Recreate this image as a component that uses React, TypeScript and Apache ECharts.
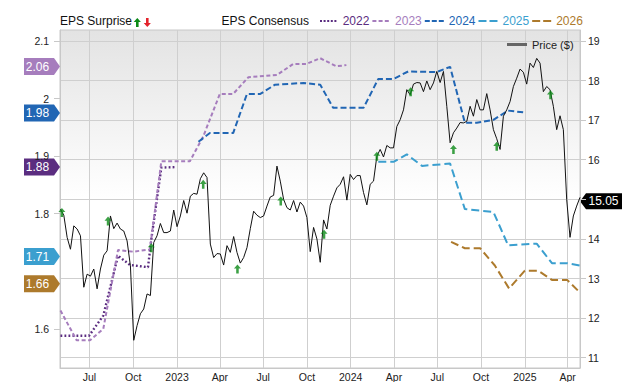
import React, { useEffect, useRef } from 'react';
import * as echarts from 'echarts';

// Weekly closing price, first week 2022-05-01
const PRICE_START = [2022, 4, 1];
const PRICE = [
  14.75, 14.6, 14.04, 13.74, 14.33, 14.25, 14.08, 12.78, 13.11, 13.06,
  13.24, 12.74, 13.24, 13.59, 13.7, 14.58, 14.26, 14.4, 14.25, 14.2,
  13.95, 13.32, 11.44, 11.81, 12.11, 12.23, 12.61, 12.57, 13.91, 14.08,
  14.39, 14.16, 14.16, 14.2, 14.73, 14.31, 14.58, 14.97, 14.65, 15.08,
  15.15, 15.13, 15.52, 15.67, 15.55, 13.87, 13.53, 13.63, 13.62, 13.34,
  13.83, 13.66, 14.06, 13.66, 13.39, 13.53, 13.78, 14.26, 14.7, 14.6,
  14.54, 14.58, 14.83, 15.06, 15.1, 15.84, 15.46, 15.0, 14.79, 14.73,
  14.97, 14.68, 14.93, 14.83, 14.54, 13.68, 14.29, 14.0, 13.41, 14.48,
  14.25, 14.85, 15.08, 15.29, 15.38, 15.57, 14.98, 15.63, 15.5, 15.6,
  15.6, 15.17, 14.86, 15.38, 15.46, 16.09, 16.26, 16.07, 16.36, 16.3,
  16.3, 16.84, 17.01, 17.26, 17.77, 17.64, 17.91, 17.95, 17.94, 17.72,
  17.99, 17.77, 17.94, 18.23, 17.95, 18.23, 17.35, 16.43, 16.68, 16.8,
  16.94, 16.93, 16.97, 17.35, 17.1, 17.52, 17.26, 17.26, 17.67, 17.26,
  16.76, 16.53, 16.26, 17.1, 17.26, 17.47, 17.85, 18.06, 18.29, 18.21,
  17.91, 18.44, 18.33, 18.56, 18.44, 17.72, 17.85, 17.77, 17.35, 16.76,
  17.11, 16.76, 15.0, 14.04, 14.58, 14.83, 15.05,
];
const LAST_PRICE = 15.05;

const EPS_2022 = [
  ['2022-05-01', 1.588], ['2022-06-30', 1.588], ['2022-07-30', 1.623], ['2022-08-30', 1.727],
  ['2022-09-24', 1.711], ['2022-11-01', 1.707], ['2022-11-08', 1.756], ['2022-11-29', 1.88],
  ['2022-12-31', 1.881],
];
const EPS_2023 = [
  ['2022-05-01', 1.632], ['2022-06-04', 1.58], ['2022-07-02', 1.58], ['2022-07-30', 1.6],
  ['2022-08-30', 1.737], ['2022-10-01', 1.734], ['2022-11-05', 1.738], ['2022-11-29', 1.891],
  ['2023-01-28', 1.891], ['2023-02-25', 1.934], ['2023-04-01', 2.008], ['2023-04-29', 2.008],
  ['2023-05-31', 2.037], ['2023-07-30', 2.041], ['2023-09-02', 2.06], ['2023-09-30', 2.06],
  ['2023-10-29', 2.07], ['2023-12-02', 2.056], ['2023-12-23', 2.058],
];
const EPS_2024 = [
  ['2023-02-15', 1.925], ['2023-03-11', 1.94], ['2023-04-29', 1.94], ['2023-05-28', 2.008],
  ['2023-06-25', 2.008], ['2023-07-26', 2.024], ['2023-09-24', 2.027], ['2023-10-29', 2.024],
  ['2023-11-25', 1.984], ['2024-01-28', 1.984], ['2024-02-28', 2.034], ['2024-03-31', 2.034],
  ['2024-05-01', 2.047], ['2024-06-30', 2.046], ['2024-07-28', 2.055], ['2024-08-28', 1.958],
  ['2024-09-22', 1.958], ['2024-10-27', 1.963], ['2024-11-27', 1.979], ['2024-12-29', 1.976],
];
const EPS_2025 = [
  ['2024-02-28', 1.89], ['2024-03-31', 1.89], ['2024-04-28', 1.903], ['2024-05-30', 1.883],
  ['2024-07-28', 1.887], ['2024-08-28', 1.808], ['2024-10-27', 1.803], ['2024-11-27', 1.745],
  ['2025-01-26', 1.748], ['2025-02-27', 1.714], ['2025-03-31', 1.714], ['2025-04-27', 1.71],
];
const EPS_2026 = [
  ['2024-07-30', 1.751], ['2024-08-28', 1.74], ['2024-09-29', 1.74], ['2024-10-30', 1.71],
  ['2024-11-29', 1.67], ['2025-01-01', 1.701], ['2025-01-29', 1.701], ['2025-02-27', 1.685],
  ['2025-03-31', 1.685], ['2025-04-27', 1.663],
];
const SURPRISES_UP = [
  ['2022-05-04', 14.67], ['2022-08-09', 14.45], ['2022-11-08', 13.78], ['2023-02-25', 15.38],
  ['2023-05-08', 13.24], ['2023-08-07', 14.96], ['2023-11-06', 14.12], ['2024-02-25', 16.09],
  ['2024-05-06', 17.72], ['2024-08-04', 16.26], ['2024-11-03', 16.34], ['2025-02-24', 17.64],
];
const YEARS = ['2022', '2023', '2024', '2025', '2026'];
const FINAL_EPS = [1.88, 2.06, 1.98, 1.71, 1.66];
const LEFT_TICKS = [1.6, 1.8, 1.9, 2, 2.1];
const RIGHT_TICKS = [11, 12, 13, 14, 15, 16, 17, 18, 19];
const RIGHT_LABELS = [11, 12, 13, 14, 16, 17, 18, 19];
const MONTHS = ['Jan', 'Feb', 'Mar', 'Apr', 'May', 'Jun', 'Jul', 'Aug', 'Sep', 'Oct', 'Nov', 'Dec'];

const COLORS = ['#5b2d80', '#a67dbd', '#2166b4', '#3b9fcf', '#ad7a2c'];
const DASHES: any[] = [[1.8, 2.2], [4, 2.5], [6, 3], [8, 4], [8, 4]];
const LEGEND_ICONS = [
  'path://M0,0h2v2h-2z M3.6,0h2v2h-2z M7.2,0h2v2h-2z M10.8,0h2v2h-2z M14.4,0h2v2h-2z',
  'path://M0,0h4v2h-4z M6.2,0h4v2h-4z M12.4,0h4v2h-4z',
  'path://M0,0h5v2h-5z M7,0h5v2h-5z M14,0h5v2h-5z',
  'path://M0,0h8v2h-8z M11,0h8v2h-8z',
  'path://M0,0h8v2h-8z M11,0h8v2h-8z',
];
const BADGE_DY = [-0.5, 2.6, 2.9, -9, -10.6];
const FONT = '"Liberation Sans", Arial, sans-serif';
const GREEN = '#0b8a17';
const RED = '#e3232b';
const ARROW_UP = 'path://M0,-4.5 L3.6,-0.4 L1.3,-0.4 L1.3,4.5 L-1.3,4.5 L-1.3,-0.4 L-3.6,-0.4 Z';

export default function App() {
  const ref = useRef<HTMLDivElement>(null);
  useEffect(() => {
    const chart = echarts.init(ref.current!, null, { renderer: 'svg' });
    const priceData = PRICE.map((v, i) => [
      new Date(PRICE_START[0], PRICE_START[1], PRICE_START[2] + 7 * i).getTime(),
      v,
    ]);
    const epsSets = [EPS_2022, EPS_2023, EPS_2024, EPS_2025, EPS_2026];
    const epsSeries = epsSets.map((d, i) => ({
      name: YEARS[i],
      type: 'line',
      data: d,
      yAxisIndex: 0,
      symbol: 'none',
      z: 2,
      lineStyle: { color: COLORS[i], width: i === 0 ? 2.4 : 2, type: DASHES[i] },
      itemStyle: { color: COLORS[i] },
    }));

    const option: any = {
      animation: false,
      textStyle: { fontFamily: FONT },
      grid: {
        left: 60, right: 60, top: 30, bottom: 13,
        show: true,
        borderColor: '#c8c8c8',
        borderWidth: 1,
        backgroundColor: new echarts.graphic.LinearGradient(0, 0, 0, 1, [
          { offset: 0, color: '#e3e3e3' },
          { offset: 0.5, color: '#ffffff' },
          { offset: 1, color: '#ffffff' },
        ]),
      },
      legend: [
        {
          data: YEARS.map((y, i) => ({ name: y, icon: LEGEND_ICONS[i], textStyle: { color: COLORS[i] } })),
          left: 315, top: 10, itemWidth: 19, itemHeight: 2, itemGap: 3,
          selectedMode: false,
          textStyle: { fontSize: 12, fontFamily: FONT },
        },
        {
          data: [{ name: 'Price ($)', icon: 'rect', itemStyle: { color: '#666' } }],
          left: 502, top: 34, itemWidth: 20, itemHeight: 3,
          selectedMode: false,
          textStyle: { fontSize: 11, color: '#222', fontFamily: FONT },
        },
      ],
      xAxis: {
        type: 'time',
        min: new Date(2022, 3, 30).getTime(),
        max: new Date(2025, 3, 27).getTime(),
        splitNumber: 12,
        axisLine: { show: true, lineStyle: { color: '#c8c8c8' } },
        axisTick: { show: false },
        splitLine: { show: true, lineStyle: { color: '#cfcfcf', width: 1 } },
        axisLabel: {
          margin: 3,
          fontSize: 10.5,
          color: '#222',
          fontFamily: FONT,
          hideOverlap: false,
          formatter: (val: number) => {
            const d = new Date(val);
            return d.getMonth() === 0 ? String(d.getFullYear()) : MONTHS[d.getMonth()];
          },
        },
      },
      yAxis: [
        {
          type: 'value',
          position: 'left',
          min: 1.532,
          max: 2.119,
          splitNumber: 5,
          axisLine: { show: true, lineStyle: { color: '#c8c8c8' } },
          axisTick: { show: true, length: 6, lineStyle: { color: '#c8c8c8' }, customValues: LEFT_TICKS },
          splitLine: { show: false },
          axisLabel: {
            customValues: LEFT_TICKS,
            margin: 11, fontSize: 10.5, color: '#222', fontFamily: FONT,
            formatter: (v: number) => String(Math.round(v * 10) / 10),
          },
        },
        {
          type: 'value',
          position: 'right',
          min: 10.74,
          max: 19.277,
          splitNumber: 8,
          axisLine: { show: true, lineStyle: { color: '#c8c8c8' } },
          axisTick: { show: true, length: 6, lineStyle: { color: '#c8c8c8' }, customValues: RIGHT_TICKS },
          splitLine: { show: true, lineStyle: { color: '#cfcfcf', width: 1 } },
          axisLabel: {
            customValues: RIGHT_LABELS,
            margin: 8, fontSize: 10.5, color: '#222', fontFamily: FONT,
            formatter: (v: number) => String(Math.round(v)),
          },
        },
      ],
      series: [
        ...epsSeries,
        {
          name: 'Price ($)',
          type: 'line',
          data: priceData,
          yAxisIndex: 1,
          symbol: 'none',
          z: 3,
          lineStyle: { color: '#111', width: 1 },
          itemStyle: { color: '#666' },
        },
        {
          name: 'EPS Surprise',
          type: 'scatter',
          data: SURPRISES_UP,
          yAxisIndex: 1,
          symbol: ARROW_UP,
          symbolSize: [7, 9],
          z: 4,
          itemStyle: { color: GREEN },
        },
      ],
    };
    chart.setOption(option);

    const graphics: any[] = [
      {
        type: 'text', left: 60, top: 15,
        style: { text: 'EPS Surprise', fontSize: 12, fill: '#111', fontFamily: FONT },
      },
      {
        type: 'polygon', x: 137.3, y: 22.5,
        shape: { points: [[0, -4.5], [3.6, -0.4], [1.3, -0.4], [1.3, 4.5], [-1.3, 4.5], [-1.3, -0.4], [-3.6, -0.4]] },
        style: { fill: GREEN },
      },
      {
        type: 'polygon', x: 147.3, y: 22.5,
        shape: { points: [[0, 4.5], [3.6, 0.4], [1.3, 0.4], [1.3, -4.5], [-1.3, -4.5], [-1.3, 0.4], [-3.6, 0.4]] },
        style: { fill: RED },
      },
      {
        type: 'text', left: 221.5, top: 15,
        style: { text: 'EPS Consensus', fontSize: 12, fill: '#111', fontFamily: FONT },
      },
    ];
    FINAL_EPS.forEach((v, i) => {
      const y = (chart.convertToPixel({ yAxisIndex: 0 } as any, v) as number) + BADGE_DY[i];
      graphics.push({
        type: 'group', x: 0, y,
        children: [
          {
            type: 'polygon',
            shape: { points: [[24, -8.5], [54, -8.5], [60, 0], [54, 8.5], [24, 8.5]] },
            style: { fill: COLORS[i] },
          },
          {
            type: 'text', x: 37.5, y: 0,
            style: {
              text: v.toFixed(2), fill: '#fff', fontSize: 12, fontFamily: FONT,
              align: 'center', verticalAlign: 'middle',
            },
          },
        ],
      });
    });
    const py = (chart.convertToPixel({ yAxisIndex: 1 } as any, LAST_PRICE) as number) + 4;
    graphics.push({
      type: 'group', x: 0, y: py,
      children: [
        {
          type: 'polygon',
          shape: { points: [[580, 0], [586, -8], [622, -8], [622, 8], [586, 8]] },
          style: { fill: '#000' },
        },
        {
          type: 'text', x: 603.5, y: 0,
          style: {
            text: LAST_PRICE.toFixed(2), fill: '#fff', fontSize: 12, fontFamily: FONT,
            align: 'center', verticalAlign: 'middle',
          },
        },
      ],
    });
    chart.setOption({ graphic: graphics });
    return () => chart.dispose();
  }, []);
  return (
    <div
      ref={ref}
      style={{ position: 'absolute', left: 0, top: 0, width: 640, height: 382 }}
    />
  );
}
